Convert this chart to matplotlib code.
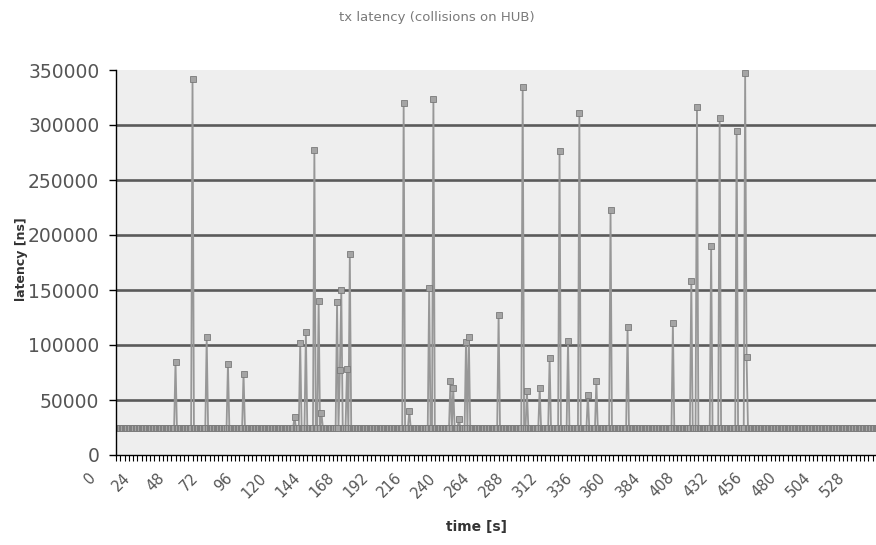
import numpy as np
import matplotlib
matplotlib.use("Agg")
import matplotlib.pyplot as plt
from matplotlib.ticker import MultipleLocator, FixedLocator
from matplotlib.transforms import ScaledTranslation

# Samples: one latency reading per second
n_samples = 541
baseline_ns = 24500

# Collision spikes: time [s] and latency [ns]
spike_times = [42, 54, 64, 79, 90, 126, 130, 134, 140, 143, 145, 156, 158, 159,
               163, 165, 203, 207, 221, 224, 236, 238, 242, 247, 249, 270, 287,
               290, 299, 306, 313, 319, 327, 333, 339, 349, 361, 393, 406, 410,
               420, 426, 438, 444, 445]
spike_ns = [85000, 342000, 107000, 83000, 74000, 35000, 102000, 112000, 277000,
            140000, 38000, 139000, 77000, 150000, 78000, 183000, 320000, 40000,
            152000, 324000, 67000, 61000, 33000, 103000, 107000, 127000, 335000,
            58000, 61000, 88000, 276000, 104000, 311000, 55000, 67000, 223000,
            116000, 120000, 158000, 316000, 190000, 306000, 295000, 347000, 89000]

yticks = [0, 50000, 100000, 150000, 200000, 250000, 300000, 350000]
xtick_step = 24

time_s = np.arange(n_samples)
latency = np.full(n_samples, baseline_ns, dtype=float)
latency[spike_times] = spike_ns

W, H = 876, 545
fig = plt.figure(figsize=(W / 100, H / 100), dpi=100)
fig.patch.set_facecolor("white")

left, right, top, bottom = 116, 876, 70, 455
ax = fig.add_axes([left / W, 1 - bottom / H, (right - left) / W, (bottom - top) / H])
ax.set_facecolor("#eeeeee")

for y in yticks[1:-1]:
    ax.axhline(y, color="#5a5a5a", lw=1.9, zorder=1)

ax.plot(time_s, latency, color="#979797", lw=1.3, zorder=2,
        marker="s", markersize=4.4, markerfacecolor="#a4a4a4",
        markeredgecolor="#7a7a7a", markeredgewidth=0.6, clip_on=True)

ax.set_xlim(0, (right - left) / 1.417)
ax.set_ylim(0, 350000)

for s in ("top", "right"):
    ax.spines[s].set_visible(False)
ax.spines["left"].set_color("black")
ax.spines["bottom"].set_color("black")
ax.spines["left"].set_linewidth(1.0)
ax.spines["bottom"].set_linewidth(1.0)

ax.yaxis.set_major_locator(FixedLocator(yticks))
ax.set_yticklabels([str(v) for v in yticks])
ax.tick_params(axis="y", direction="out", length=5, width=1, color="black",
               labelsize=13.5, labelcolor="#555555", pad=7)

ax.xaxis.set_major_locator(MultipleLocator(xtick_step))
ax.xaxis.set_minor_locator(MultipleLocator(3))
ax.tick_params(axis="x", which="both", direction="out", length=4, width=0.8,
               color="black")
ax.tick_params(axis="x", which="major", labelsize=10.5, labelcolor="#555555", pad=7)
offset = ScaledTranslation(-17 / 100, 0, fig.dpi_scale_trans)
for lab in ax.get_xticklabels():
    lab.set_rotation(45)
    lab.set_ha("right")
    lab.set_va("top")
    lab.set_transform(lab.get_transform() + offset)

fig.text(437 / W, 1 - 18 / H, "tx latency (collisions on HUB)", ha="center",
         va="center", fontsize=9.5, color="#7a7a7a",
         family=["Liberation Sans Narrow", "DejaVu Sans"])
fig.text(476 / W, 1 - 527 / H, "time [s]", ha="center", va="center",
         fontsize=10, fontweight="bold", color="#333333")
fig.text(22 / W, 1 - 259 / H, "latency [ns]", ha="center", va="center",
         rotation=90, fontsize=9, fontweight="bold", color="#333333")

fig.savefig("out.png", dpi=100)
